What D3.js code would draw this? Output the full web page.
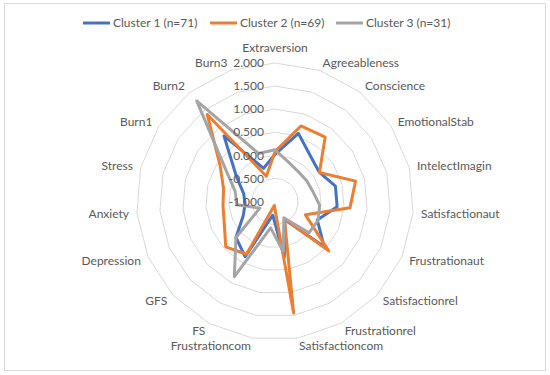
<!DOCTYPE html>
<html>
<head>
<meta charset="utf-8">
<script src="https://cdn.jsdelivr.net/npm/d3@7"></script>
<style>
  html, body { margin: 0; padding: 0; background: #fff; }
  svg { display: block; }
</style>
</head>
<body>
<script>
const categories = [
  "Extraversion", "Agreeableness", "Conscience", "EmotionalStab", "IntelectImagin",
  "Satisfactionaut", "Frustrationaut", "Satisfactionrel", "Frustrationrel",
  "Satisfactioncom", "Frustrationcom", "FS", "GFS", "Depression", "Anxiety",
  "Stress", "Burn1", "Burn2", "Burn3"
];

const cluster1 = [0.02, 0.56, 0.25, 0.15, 0.35, 0.35, 0.00, 0.45, -0.55, 0.22, -0.70, 0.36, 0.15, -0.25, -0.35, -0.30, 0.00, 0.80, -0.24];
const cluster2 = [0.08, 0.73, 0.77, 0.15, 0.80, 0.63, -0.28, 0.58, -0.57, 1.45, -0.91, 0.30, 0.45, 0.20, 0.13, 0.15, 0.42, 1.39, -0.42];
const cluster3 = [0.12, -0.10, -0.18, -0.18, -0.15, -0.03, 0.02, 0.00, -0.60, 0.10, -0.42, 0.85, 0.15, -0.64, -0.17, -0.11, 0.28, 1.76, 0.10];

const seriesNames = ["Cluster 1 (n=71)", "Cluster 2 (n=69)", "Cluster 3 (n=31)"];
const seriesColors = ["#4472c4", "#ed7d31", "#a5a5a5"];
const tickValues = [-1, -0.5, 0, 0.5, 1, 1.5, 2];

const width = 550;
const height = 375;
const cx = 275;
const cy = 201.5;
const radius = 138.5;
const font = "Lato, 'Open Sans', sans-serif";
const textColor = "#595959";

const svg = d3.select("body").append("svg")
  .attr("width", width)
  .attr("height", height);

// chart area border
svg.append("rect")
  .attr("x", 4.5).attr("y", 3.5)
  .attr("width", 541).attr("height", 367)
  .attr("fill", "#fff")
  .attr("stroke", "#d9d9d9");

const r = d3.scaleLinear().domain([-1, 2]).range([0, radius]);
const angle = d3.scalePoint().domain(categories).range([0, 2 * Math.PI * (categories.length) / categories.length]).padding(0);
// scalePoint spreads over [0, 2pi]; step must be 2pi/n so shift the range
angle.range([0, 2 * Math.PI * (categories.length - 1) / categories.length]);

const g = svg.append("g").attr("transform", `translate(${cx},${cy})`);

// grid rings (polygons)
const ringLine = d3.lineRadial()
  .angle(d => angle(d))
  .curve(d3.curveLinearClosed);

g.append("g")
  .selectAll("path")
  .data(tickValues.filter(v => v > -1))
  .enter()
  .append("path")
  .attr("d", v => ringLine.radius(() => r(v))(categories))
  .attr("fill", "none")
  .attr("stroke", "#d9d9d9")
  .attr("stroke-width", 1);

// series
const series = [cluster1, cluster2, cluster3];
const seriesLine = d3.lineRadial()
  .angle((d, i) => angle(categories[i]))
  .radius(d => r(d))
  .curve(d3.curveLinearClosed);

g.append("g")
  .selectAll("path")
  .data(series)
  .enter()
  .append("path")
  .attr("d", d => seriesLine(d))
  .attr("fill", "none")
  .attr("stroke", (d, i) => seriesColors[i])
  .attr("stroke-width", 3)
  .attr("stroke-linejoin", "round");

// value tick labels
g.append("g")
  .selectAll("text")
  .data(tickValues)
  .enter()
  .append("text")
  .attr("x", -11)
  .attr("y", v => -r(v))
  .attr("dy", "0.35em")
  .attr("text-anchor", "end")
  .attr("font-family", font)
  .attr("font-size", 12)
  .attr("fill", textColor)
  .text(v => d3.format(".3f")(v).replace("−", "-"));

// category labels
g.append("g")
  .selectAll("text")
  .data(categories)
  .enter()
  .append("text")
  .each(function(c) {
    const a = angle(c);
    const x = Math.sin(a) * (radius + 8);
    const y = -Math.cos(a) * (radius + 8);
    const sel = d3.select(this);
    let anchor = "middle";
    if (Math.abs(x) > 1) anchor = x > 0 ? "start" : "end";
    sel.attr("x", x)
      .attr("y", Math.abs(x) > 1 ? y : y - 7)
      .attr("text-anchor", anchor);
  })
  .attr("dy", "0.35em")
  .attr("font-family", font)
  .attr("font-size", 12)
  .attr("fill", textColor)
  .text(d => d);

// legend
const legendX = [83, 210, 336];
const legend = svg.append("g")
  .selectAll("g")
  .data(seriesNames)
  .enter()
  .append("g")
  .attr("transform", (d, i) => `translate(${legendX[i]},23)`);

legend.append("line")
  .attr("x1", 0).attr("x2", 27)
  .attr("y1", 0).attr("y2", 0)
  .attr("stroke", (d, i) => seriesColors[i])
  .attr("stroke-width", 3);

legend.append("text")
  .attr("x", 30)
  .attr("dy", "0.35em")
  .attr("font-family", font)
  .attr("font-size", 12)
  .attr("fill", textColor)
  .text(d => d);
</script>
</body>
</html>
